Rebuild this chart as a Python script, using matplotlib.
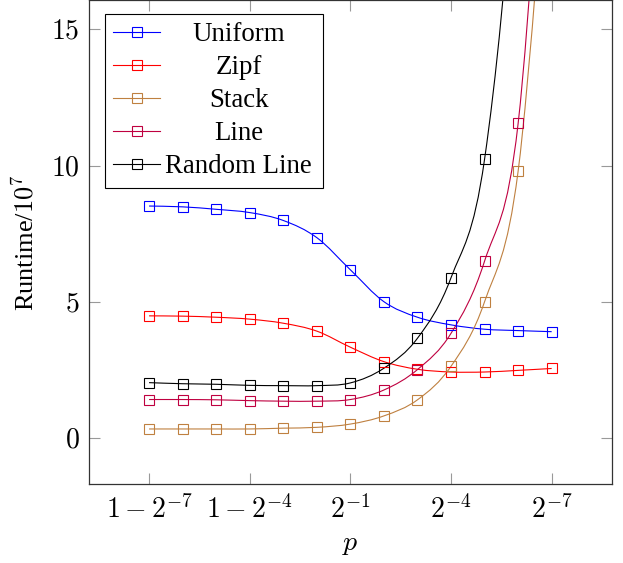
import numpy as np
import matplotlib.pyplot as plt
from matplotlib.path import Path
from matplotlib.patches import PathPatch
from matplotlib.lines import Line2D

plt.rcParams['font.family'] = ['Liberation Serif', 'DejaVu Serif']
plt.rcParams['mathtext.fontset'] = 'cm'

# x positions (index of p value), labels on every 3rd
x = np.arange(13)
tick_pos = [0, 3, 6, 9, 12]
tick_labels = [r'$1-2^{-7}$', r'$1-2^{-4}$', r'$2^{-1}$', r'$2^{-4}$', r'$2^{-7}$']

# runtime / 10^7 (points above the visible range are estimates)
uniform = [8.52, 8.49, 8.40, 8.28, 7.99, 7.36, 6.18, 5.01, 4.44, 4.16, 4.00, 3.95, 3.91]
zipf = [4.49, 4.48, 4.44, 4.37, 4.22, 3.93, 3.34, 2.81, 2.53, 2.43, 2.43, 2.49, 2.56]
stack = [0.34, 0.34, 0.34, 0.34, 0.37, 0.40, 0.52, 0.82, 1.41, 2.64, 5.01, 9.80, 24.0]
line = [1.42, 1.42, 1.41, 1.38, 1.36, 1.36, 1.42, 1.77, 2.52, 3.85, 6.50, 11.55, 28.0]
random_line = [2.04, 2.00, 1.98, 1.94, 1.93, 1.93, 2.03, 2.57, 3.67, 5.89, 10.24, 23.0, 45.0]

names = ['Uniform', 'Zipf', 'Stack', 'Line', 'Random Line']
series = [uniform, zipf, stack, line, random_line]
colors = ['#0000ff', '#ff0000', '#bf8040', '#bf0040', '#000000']


def smooth_path(xs, ys, k=0.17):
    # cubic bezier through the points, like pgfplots "smooth"
    pts = np.column_stack([xs, ys]).astype(float)
    n = len(pts)
    verts = [pts[0]]
    codes = [Path.MOVETO]
    for i in range(n - 1):
        p_prev = pts[max(i - 1, 0)]
        p0 = pts[i]
        p1 = pts[i + 1]
        p_next = pts[min(i + 2, n - 1)]
        c1 = p0 + (p1 - p_prev) * k
        c2 = p1 - (p_next - p0) * k
        verts += [c1, c2, p1]
        codes += [Path.CURVE4] * 3
    return Path(verts, codes)


fig = plt.figure(figsize=(6.23, 5.63), dpi=100)
ax = fig.add_axes([0.1429, 0.1398, 0.839, 0.8602])

handles = []
for name, ys, c in zip(names, series, colors):
    patch = PathPatch(smooth_path(x, ys), facecolor='none', edgecolor=c, lw=0.8)
    ax.add_patch(patch)
    ax.plot(x, ys, ls='none', marker='s', ms=7.5, mfc='none', mec=c, mew=0.8)
    handles.append(Line2D([], [], color=c, lw=0.8, marker='s', ms=7.5,
                          mfc='none', mec=c, mew=0.8))

ax.set_xlim(-1.79, 13.79)
ax.set_ylim(-1.69, 16.08)
ax.set_xticks(tick_pos)
ax.set_xticklabels(tick_labels)
ax.set_yticks([0, 5, 10, 15])
ax.set_yticklabels([r'$0$', r'$5$', r'$10$', r'$15$'])

ax.tick_params(direction='in', length=8, width=0.8, color='#999999',
               top=True, right=True, labelsize=20)
ax.tick_params(axis='y', pad=7)
ax.tick_params(axis='x', pad=8)
for s in ax.spines.values():
    s.set_color('#333333')
    s.set_linewidth(0.9)

ax.set_xlabel(r'$p$', fontsize=20, labelpad=6)
ax.set_ylabel(r'Runtime/$10^7$', fontsize=19, labelpad=9)

leg = ax.legend(handles, names, loc='upper left', bbox_to_anchor=(0.0304, 0.971),
                fontsize=19.4, frameon=True, fancybox=False, edgecolor='black',
                framealpha=1, handlelength=1.75, handletextpad=0.3,
                labelspacing=0.3, borderpad=0.3, borderaxespad=0)
leg.get_frame().set_linewidth(0.8)

# centre the legend texts in their column, like pgfplots does
fig.canvas.draw()
renderer = fig.canvas.get_renderer()
widths = [t.get_window_extent(renderer).width for t in leg.get_texts()]
w = max(widths)
for t, wi in zip(leg.get_texts(), widths):
    t.set_position(((w - wi) / 2 - 3, 0))

fig.savefig('out.png', dpi=100)
